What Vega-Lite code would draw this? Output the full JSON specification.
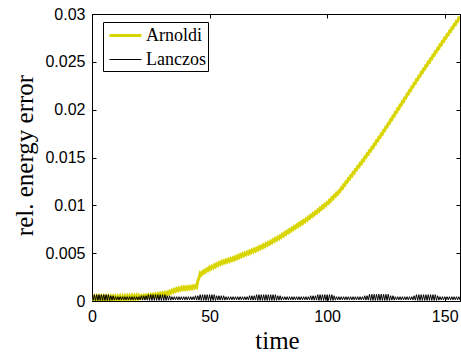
{
 "$schema": "https://vega.github.io/schema/vega-lite/v6.json",
 "width": 368,
 "height": 287,
 "autosize": {"type": "none"},
 "padding": {"left": 92, "top": 14, "right": 1, "bottom": 53},
 "background": "white",
 "config": {
  "view": {"stroke": "black", "strokeWidth": 1},
  "axis": {"domainColor": "black", "domainWidth": 1, "tickColor": "black", "tickSize": -4, "labelPadding": 11, "labelFont": "Liberation Sans", "labelFontSize": 16, "labelColor": "black", "titleFont": "Liberation Serif", "titleFontSize": 25, "titleFontWeight": "normal", "titleColor": "black", "grid": false, "labelFlush": false},
  "legend": {"strokeColor": "black", "fillColor": "white", "padding": 2, "symbolType": "M-1.6,0H1.6", "symbolSize": 400, "symbolOffset": 9, "labelFont": "Liberation Serif", "labelFontSize": 18, "labelColor": "black", "labelOffset": 9, "rowPadding": 4, "cornerRadius": 0}
 },
 "data": {"values": [
{"t":0,"Arnoldi":0.00045,"Lanczos":0.00066},{"t":0.5,"Arnoldi":0.00015,"Lanczos":0.00006},
{"t":1,"Arnoldi":0.00045,"Lanczos":0.00066},{"t":1.5,"Arnoldi":0.00015,"Lanczos":0.00006},
{"t":2,"Arnoldi":0.00045,"Lanczos":0.00066},{"t":2.5,"Arnoldi":0.00015,"Lanczos":0.00006},
{"t":3,"Arnoldi":0.00045,"Lanczos":0.00066},{"t":3.5,"Arnoldi":0.00015,"Lanczos":0.00006},
{"t":4,"Arnoldi":0.00045,"Lanczos":0.00066},{"t":4.5,"Arnoldi":0.00015,"Lanczos":0.00006},
{"t":5,"Arnoldi":0.00045,"Lanczos":0.00066},{"t":5.5,"Arnoldi":0.00015,"Lanczos":0.00006},
{"t":6,"Arnoldi":0.00045,"Lanczos":0.00066},{"t":6.5,"Arnoldi":0.00015,"Lanczos":0.00006},
{"t":7,"Arnoldi":0.00045,"Lanczos":0.00066},{"t":7.5,"Arnoldi":0.00015,"Lanczos":0.00006},
{"t":8,"Arnoldi":0.00045,"Lanczos":0.00055},{"t":8.5,"Arnoldi":0.00015,"Lanczos":0.00009},
{"t":9,"Arnoldi":0.00045,"Lanczos":0.00055},{"t":9.5,"Arnoldi":0.00015,"Lanczos":0.00009},
{"t":10,"Arnoldi":0.00045,"Lanczos":0.00045},{"t":10.5,"Arnoldi":0.00016,"Lanczos":0.00012},
{"t":11,"Arnoldi":0.00046,"Lanczos":0.00045},{"t":11.5,"Arnoldi":0.00017,"Lanczos":0.00012},
{"t":12,"Arnoldi":0.00047,"Lanczos":0.00045},{"t":12.5,"Arnoldi":0.00018,"Lanczos":0.00012},
{"t":13,"Arnoldi":0.00048,"Lanczos":0.00045},{"t":13.5,"Arnoldi":0.00019,"Lanczos":0.00012},
{"t":14,"Arnoldi":0.00049,"Lanczos":0.00045},{"t":14.5,"Arnoldi":0.0002,"Lanczos":0.00012},
{"t":15,"Arnoldi":0.0005,"Lanczos":0.00045},{"t":15.5,"Arnoldi":0.00021,"Lanczos":0.00012},
{"t":16,"Arnoldi":0.00051,"Lanczos":0.00045},{"t":16.5,"Arnoldi":0.00022,"Lanczos":0.00012},
{"t":17,"Arnoldi":0.00052,"Lanczos":0.00045},{"t":17.5,"Arnoldi":0.00023,"Lanczos":0.00012},
{"t":18,"Arnoldi":0.00053,"Lanczos":0.00045},{"t":18.5,"Arnoldi":0.00024,"Lanczos":0.00012},
{"t":19,"Arnoldi":0.00054,"Lanczos":0.00045},{"t":19.5,"Arnoldi":0.00025,"Lanczos":0.00012},
{"t":20,"Arnoldi":0.00055,"Lanczos":0.00045},{"t":20.5,"Arnoldi":0.00032,"Lanczos":0.00012},
{"t":21,"Arnoldi":0.00053,"Lanczos":0.00055},{"t":21.5,"Arnoldi":0.00035,"Lanczos":0.00009},
{"t":22,"Arnoldi":0.00056,"Lanczos":0.00055},{"t":22.5,"Arnoldi":0.00038,"Lanczos":0.00009},
{"t":23,"Arnoldi":0.00059,"Lanczos":0.00055},{"t":23.5,"Arnoldi":0.0004,"Lanczos":0.00009},
{"t":24,"Arnoldi":0.00061,"Lanczos":0.00066},{"t":24.5,"Arnoldi":0.00043,"Lanczos":0.00006},
{"t":25,"Arnoldi":0.00064,"Lanczos":0.00066},{"t":25.5,"Arnoldi":0.00046,"Lanczos":0.00006},
{"t":26,"Arnoldi":0.00067,"Lanczos":0.00066},{"t":26.5,"Arnoldi":0.00049,"Lanczos":0.00006},
{"t":27,"Arnoldi":0.0007,"Lanczos":0.00066},{"t":27.5,"Arnoldi":0.00052,"Lanczos":0.00006},
{"t":28,"Arnoldi":0.00074,"Lanczos":0.00066},{"t":28.5,"Arnoldi":0.00056,"Lanczos":0.00006},
{"t":29,"Arnoldi":0.00078,"Lanczos":0.00066},{"t":29.5,"Arnoldi":0.0006,"Lanczos":0.00006},
{"t":30,"Arnoldi":0.00082,"Lanczos":0.00066},{"t":30.5,"Arnoldi":0.00064,"Lanczos":0.00006},
{"t":31,"Arnoldi":0.00086,"Lanczos":0.00066},{"t":31.5,"Arnoldi":0.00068,"Lanczos":0.00006},
{"t":32,"Arnoldi":0.0009,"Lanczos":0.00055},{"t":32.5,"Arnoldi":0.00075,"Lanczos":0.00009},
{"t":33,"Arnoldi":0.001,"Lanczos":0.00055},{"t":33.5,"Arnoldi":0.00085,"Lanczos":0.00009},
{"t":34,"Arnoldi":0.0011,"Lanczos":0.00045},{"t":34.5,"Arnoldi":0.00095,"Lanczos":0.00012},
{"t":35,"Arnoldi":0.0012,"Lanczos":0.00045},{"t":35.5,"Arnoldi":0.00104,"Lanczos":0.00012},
{"t":36,"Arnoldi":0.00127,"Lanczos":0.00045},{"t":36.5,"Arnoldi":0.0011,"Lanczos":0.00012},
{"t":37,"Arnoldi":0.00133,"Lanczos":0.00045},{"t":37.5,"Arnoldi":0.00117,"Lanczos":0.00012},
{"t":38,"Arnoldi":0.0014,"Lanczos":0.00045},{"t":38.5,"Arnoldi":0.00121,"Lanczos":0.00012},
{"t":39,"Arnoldi":0.00142,"Lanczos":0.00045},{"t":39.5,"Arnoldi":0.00124,"Lanczos":0.00012},
{"t":40,"Arnoldi":0.00145,"Lanczos":0.00045},{"t":40.5,"Arnoldi":0.00126,"Lanczos":0.00012},
{"t":41,"Arnoldi":0.00147,"Lanczos":0.00045},{"t":41.5,"Arnoldi":0.00129,"Lanczos":0.00012},
{"t":42,"Arnoldi":0.0015,"Lanczos":0.00045},{"t":42.5,"Arnoldi":0.00132,"Lanczos":0.00012},
{"t":43,"Arnoldi":0.00153,"Lanczos":0.00045},{"t":43.5,"Arnoldi":0.00136,"Lanczos":0.00012},
{"t":44,"Arnoldi":0.00158,"Lanczos":0.00055},{"t":44.5,"Arnoldi":0.00145,"Lanczos":0.00009},
{"t":45,"Arnoldi":0.0021,"Lanczos":0.00055},{"t":45.5,"Arnoldi":0.0024,"Lanczos":0.00009},
{"t":46,"Arnoldi":0.0029,"Lanczos":0.00066},{"t":46.5,"Arnoldi":0.00278,"Lanczos":0.00006},
{"t":47,"Arnoldi":0.00305,"Lanczos":0.00066},{"t":47.5,"Arnoldi":0.00293,"Lanczos":0.00006},
{"t":48,"Arnoldi":0.0032,"Lanczos":0.00066},{"t":48.5,"Arnoldi":0.00308,"Lanczos":0.00006},
{"t":49,"Arnoldi":0.00335,"Lanczos":0.00066},{"t":49.5,"Arnoldi":0.00323,"Lanczos":0.00006},
{"t":50,"Arnoldi":0.0035,"Lanczos":0.00066},{"t":50.5,"Arnoldi":0.00336,"Lanczos":0.00006},
{"t":51,"Arnoldi":0.00362,"Lanczos":0.00066},{"t":51.5,"Arnoldi":0.00348,"Lanczos":0.00006},
{"t":52,"Arnoldi":0.00374,"Lanczos":0.00066},{"t":52.5,"Arnoldi":0.0036,"Lanczos":0.00006},
{"t":53,"Arnoldi":0.00386,"Lanczos":0.00055},{"t":53.5,"Arnoldi":0.00372,"Lanczos":0.00009},
{"t":54,"Arnoldi":0.00398,"Lanczos":0.00055},{"t":54.5,"Arnoldi":0.00384,"Lanczos":0.00009},
{"t":55,"Arnoldi":0.0041,"Lanczos":0.00055},{"t":55.5,"Arnoldi":0.00394,"Lanczos":0.00009},
{"t":56,"Arnoldi":0.00418,"Lanczos":0.00055},{"t":56.5,"Arnoldi":0.00402,"Lanczos":0.00009},
{"t":57,"Arnoldi":0.00426,"Lanczos":0.00045},{"t":57.5,"Arnoldi":0.0041,"Lanczos":0.00012},
{"t":58,"Arnoldi":0.00434,"Lanczos":0.00045},{"t":58.5,"Arnoldi":0.00418,"Lanczos":0.00012},
{"t":59,"Arnoldi":0.00442,"Lanczos":0.00045},{"t":59.5,"Arnoldi":0.00426,"Lanczos":0.00012},
{"t":60,"Arnoldi":0.0045,"Lanczos":0.00045},{"t":60.5,"Arnoldi":0.00435,"Lanczos":0.00012},
{"t":61,"Arnoldi":0.0046,"Lanczos":0.00045},{"t":61.5,"Arnoldi":0.00445,"Lanczos":0.00012},
{"t":62,"Arnoldi":0.0047,"Lanczos":0.00045},{"t":62.5,"Arnoldi":0.00455,"Lanczos":0.00012},
{"t":63,"Arnoldi":0.0048,"Lanczos":0.00045},{"t":63.5,"Arnoldi":0.00465,"Lanczos":0.00012},
{"t":64,"Arnoldi":0.0049,"Lanczos":0.00045},{"t":64.5,"Arnoldi":0.00475,"Lanczos":0.00012},
{"t":65,"Arnoldi":0.005,"Lanczos":0.00045},{"t":65.5,"Arnoldi":0.00485,"Lanczos":0.00012},
{"t":66,"Arnoldi":0.0051,"Lanczos":0.00045},{"t":66.5,"Arnoldi":0.00495,"Lanczos":0.00012},
{"t":67,"Arnoldi":0.0052,"Lanczos":0.00055},{"t":67.5,"Arnoldi":0.00505,"Lanczos":0.00009},
{"t":68,"Arnoldi":0.0053,"Lanczos":0.00055},{"t":68.5,"Arnoldi":0.00515,"Lanczos":0.00009},
{"t":69,"Arnoldi":0.0054,"Lanczos":0.00055},{"t":69.5,"Arnoldi":0.00525,"Lanczos":0.00009},
{"t":70,"Arnoldi":0.0055,"Lanczos":0.00066},{"t":70.5,"Arnoldi":0.00536,"Lanczos":0.00006},
{"t":71,"Arnoldi":0.00562,"Lanczos":0.00066},{"t":71.5,"Arnoldi":0.00548,"Lanczos":0.00006},
{"t":72,"Arnoldi":0.00574,"Lanczos":0.00066},{"t":72.5,"Arnoldi":0.0056,"Lanczos":0.00006},
{"t":73,"Arnoldi":0.00586,"Lanczos":0.00066},{"t":73.5,"Arnoldi":0.00572,"Lanczos":0.00006},
{"t":74,"Arnoldi":0.00598,"Lanczos":0.00066},{"t":74.5,"Arnoldi":0.00584,"Lanczos":0.00006},
{"t":75,"Arnoldi":0.0061,"Lanczos":0.00066},{"t":75.5,"Arnoldi":0.00597,"Lanczos":0.00006},
{"t":76,"Arnoldi":0.00624,"Lanczos":0.00066},{"t":76.5,"Arnoldi":0.00611,"Lanczos":0.00006},
{"t":77,"Arnoldi":0.00638,"Lanczos":0.00066},{"t":77.5,"Arnoldi":0.00625,"Lanczos":0.00006},
{"t":78,"Arnoldi":0.00652,"Lanczos":0.00066},{"t":78.5,"Arnoldi":0.00639,"Lanczos":0.00006},
{"t":79,"Arnoldi":0.00666,"Lanczos":0.00055},{"t":79.5,"Arnoldi":0.00653,"Lanczos":0.00009},
{"t":80,"Arnoldi":0.0068,"Lanczos":0.00055},{"t":80.5,"Arnoldi":0.00668,"Lanczos":0.00009},
{"t":81,"Arnoldi":0.00696,"Lanczos":0.00045},{"t":81.5,"Arnoldi":0.00684,"Lanczos":0.00012},
{"t":82,"Arnoldi":0.00712,"Lanczos":0.00045},{"t":82.5,"Arnoldi":0.007,"Lanczos":0.00012},
{"t":83,"Arnoldi":0.00728,"Lanczos":0.00045},{"t":83.5,"Arnoldi":0.00716,"Lanczos":0.00012},
{"t":84,"Arnoldi":0.00744,"Lanczos":0.00045},{"t":84.5,"Arnoldi":0.00732,"Lanczos":0.00012},
{"t":85,"Arnoldi":0.0076,"Lanczos":0.00045},{"t":85.5,"Arnoldi":0.00748,"Lanczos":0.00012},
{"t":86,"Arnoldi":0.00776,"Lanczos":0.00045},{"t":86.5,"Arnoldi":0.00764,"Lanczos":0.00012},
{"t":87,"Arnoldi":0.00792,"Lanczos":0.00045},{"t":87.5,"Arnoldi":0.0078,"Lanczos":0.00012},
{"t":88,"Arnoldi":0.00808,"Lanczos":0.00045},{"t":88.5,"Arnoldi":0.00796,"Lanczos":0.00012},
{"t":89,"Arnoldi":0.00824,"Lanczos":0.00045},{"t":89.5,"Arnoldi":0.00812,"Lanczos":0.00012},
{"t":90,"Arnoldi":0.0084,"Lanczos":0.00045},{"t":90.5,"Arnoldi":0.00829,"Lanczos":0.00012},
{"t":91,"Arnoldi":0.00858,"Lanczos":0.00045},{"t":91.5,"Arnoldi":0.00847,"Lanczos":0.00012},
{"t":92,"Arnoldi":0.00876,"Lanczos":0.00045},{"t":92.5,"Arnoldi":0.00865,"Lanczos":0.00012},
{"t":93,"Arnoldi":0.00894,"Lanczos":0.00055},{"t":93.5,"Arnoldi":0.00883,"Lanczos":0.00009},
{"t":94,"Arnoldi":0.00912,"Lanczos":0.00055},{"t":94.5,"Arnoldi":0.00901,"Lanczos":0.00009},
{"t":95,"Arnoldi":0.0093,"Lanczos":0.00055},{"t":95.5,"Arnoldi":0.0092,"Lanczos":0.00009},
{"t":96,"Arnoldi":0.0095,"Lanczos":0.00066},{"t":96.5,"Arnoldi":0.0094,"Lanczos":0.00006},
{"t":97,"Arnoldi":0.0097,"Lanczos":0.00066},{"t":97.5,"Arnoldi":0.0096,"Lanczos":0.00006},
{"t":98,"Arnoldi":0.0099,"Lanczos":0.00066},{"t":98.5,"Arnoldi":0.0098,"Lanczos":0.00006},
{"t":99,"Arnoldi":0.0101,"Lanczos":0.00066},{"t":99.5,"Arnoldi":0.01,"Lanczos":0.00006},
{"t":100,"Arnoldi":0.0103,"Lanczos":0.00066},{"t":100.5,"Arnoldi":0.01022,"Lanczos":0.00006},
{"t":101,"Arnoldi":0.01054,"Lanczos":0.00066},{"t":101.5,"Arnoldi":0.01046,"Lanczos":0.00006},
{"t":102,"Arnoldi":0.01078,"Lanczos":0.00066},{"t":102.5,"Arnoldi":0.0107,"Lanczos":0.00006},
{"t":103,"Arnoldi":0.01102,"Lanczos":0.00055},{"t":103.5,"Arnoldi":0.01094,"Lanczos":0.00009},
{"t":104,"Arnoldi":0.01126,"Lanczos":0.00045},{"t":104.5,"Arnoldi":0.01118,"Lanczos":0.00012},
{"t":105,"Arnoldi":0.0115,"Lanczos":0.00045},{"t":105.5,"Arnoldi":0.01146,"Lanczos":0.00012},
{"t":106,"Arnoldi":0.01182,"Lanczos":0.00045},{"t":106.5,"Arnoldi":0.01178,"Lanczos":0.00012},
{"t":107,"Arnoldi":0.01214,"Lanczos":0.00045},{"t":107.5,"Arnoldi":0.0121,"Lanczos":0.00012},
{"t":108,"Arnoldi":0.01246,"Lanczos":0.00045},{"t":108.5,"Arnoldi":0.01242,"Lanczos":0.00012},
{"t":109,"Arnoldi":0.01278,"Lanczos":0.00045},{"t":109.5,"Arnoldi":0.01274,"Lanczos":0.00012},
{"t":110,"Arnoldi":0.0131,"Lanczos":0.00045},{"t":110.5,"Arnoldi":0.01306,"Lanczos":0.00012},
{"t":111,"Arnoldi":0.01342,"Lanczos":0.00045},{"t":111.5,"Arnoldi":0.01338,"Lanczos":0.00012},
{"t":112,"Arnoldi":0.01374,"Lanczos":0.00045},{"t":112.5,"Arnoldi":0.0137,"Lanczos":0.00012},
{"t":113,"Arnoldi":0.01406,"Lanczos":0.00045},{"t":113.5,"Arnoldi":0.01402,"Lanczos":0.00012},
{"t":114,"Arnoldi":0.01438,"Lanczos":0.00045},{"t":114.5,"Arnoldi":0.01434,"Lanczos":0.00012},
{"t":115,"Arnoldi":0.0147,"Lanczos":0.00045},{"t":115.5,"Arnoldi":0.01467,"Lanczos":0.00012},
{"t":116,"Arnoldi":0.01504,"Lanczos":0.00055},{"t":116.5,"Arnoldi":0.01501,"Lanczos":0.00009},
{"t":117,"Arnoldi":0.01538,"Lanczos":0.00055},{"t":117.5,"Arnoldi":0.01535,"Lanczos":0.00009},
{"t":118,"Arnoldi":0.01572,"Lanczos":0.0007},{"t":118.5,"Arnoldi":0.01569,"Lanczos":0.00006},
{"t":119,"Arnoldi":0.01606,"Lanczos":0.0007},{"t":119.5,"Arnoldi":0.01603,"Lanczos":0.00006},
{"t":120,"Arnoldi":0.0164,"Lanczos":0.0007},{"t":120.5,"Arnoldi":0.01638,"Lanczos":0.00006},
{"t":121,"Arnoldi":0.01676,"Lanczos":0.0007},{"t":121.5,"Arnoldi":0.01674,"Lanczos":0.00006},
{"t":122,"Arnoldi":0.01712,"Lanczos":0.0007},{"t":122.5,"Arnoldi":0.0171,"Lanczos":0.00006},
{"t":123,"Arnoldi":0.01748,"Lanczos":0.0007},{"t":123.5,"Arnoldi":0.01746,"Lanczos":0.00006},
{"t":124,"Arnoldi":0.01784,"Lanczos":0.0007},{"t":124.5,"Arnoldi":0.01782,"Lanczos":0.00006},
{"t":125,"Arnoldi":0.0182,"Lanczos":0.0007},{"t":125.5,"Arnoldi":0.01819,"Lanczos":0.00006},
{"t":126,"Arnoldi":0.01858,"Lanczos":0.0007},{"t":126.5,"Arnoldi":0.01857,"Lanczos":0.00006},
{"t":127,"Arnoldi":0.01896,"Lanczos":0.00055},{"t":127.5,"Arnoldi":0.01895,"Lanczos":0.00009},
{"t":128,"Arnoldi":0.01934,"Lanczos":0.00055},{"t":128.5,"Arnoldi":0.01933,"Lanczos":0.00009},
{"t":129,"Arnoldi":0.01972,"Lanczos":0.00045},{"t":129.5,"Arnoldi":0.01971,"Lanczos":0.00012},
{"t":130,"Arnoldi":0.0201,"Lanczos":0.00045},{"t":130.5,"Arnoldi":0.02009,"Lanczos":0.00012},
{"t":131,"Arnoldi":0.02048,"Lanczos":0.00045},{"t":131.5,"Arnoldi":0.02047,"Lanczos":0.00012},
{"t":132,"Arnoldi":0.02086,"Lanczos":0.00045},{"t":132.5,"Arnoldi":0.02085,"Lanczos":0.00012},
{"t":133,"Arnoldi":0.02124,"Lanczos":0.00045},{"t":133.5,"Arnoldi":0.02123,"Lanczos":0.00012},
{"t":134,"Arnoldi":0.02162,"Lanczos":0.00045},{"t":134.5,"Arnoldi":0.02161,"Lanczos":0.00012},
{"t":135,"Arnoldi":0.022,"Lanczos":0.00045},{"t":135.5,"Arnoldi":0.02199,"Lanczos":0.00012},
{"t":136,"Arnoldi":0.02238,"Lanczos":0.00045},{"t":136.5,"Arnoldi":0.02237,"Lanczos":0.00012},
{"t":137,"Arnoldi":0.02276,"Lanczos":0.00055},{"t":137.5,"Arnoldi":0.02275,"Lanczos":0.00009},
{"t":138,"Arnoldi":0.02314,"Lanczos":0.00066},{"t":138.5,"Arnoldi":0.02313,"Lanczos":0.00006},
{"t":139,"Arnoldi":0.02352,"Lanczos":0.00066},{"t":139.5,"Arnoldi":0.02351,"Lanczos":0.00006},
{"t":140,"Arnoldi":0.0239,"Lanczos":0.00066},{"t":140.5,"Arnoldi":0.02388,"Lanczos":0.00006},
{"t":141,"Arnoldi":0.02426,"Lanczos":0.00066},{"t":141.5,"Arnoldi":0.02424,"Lanczos":0.00006},
{"t":142,"Arnoldi":0.02462,"Lanczos":0.00066},{"t":142.5,"Arnoldi":0.0246,"Lanczos":0.00006},
{"t":143,"Arnoldi":0.02498,"Lanczos":0.00066},{"t":143.5,"Arnoldi":0.02496,"Lanczos":0.00006},
{"t":144,"Arnoldi":0.02534,"Lanczos":0.00066},{"t":144.5,"Arnoldi":0.02532,"Lanczos":0.00006},
{"t":145,"Arnoldi":0.0257,"Lanczos":0.00066},{"t":145.5,"Arnoldi":0.02568,"Lanczos":0.00006},
{"t":146,"Arnoldi":0.02606,"Lanczos":0.00066},{"t":146.5,"Arnoldi":0.02604,"Lanczos":0.00006},
{"t":147,"Arnoldi":0.02642,"Lanczos":0.00055},{"t":147.5,"Arnoldi":0.0264,"Lanczos":0.00009},
{"t":148,"Arnoldi":0.02678,"Lanczos":0.00045},{"t":148.5,"Arnoldi":0.02676,"Lanczos":0.00012},
{"t":149,"Arnoldi":0.02714,"Lanczos":0.00045},{"t":149.5,"Arnoldi":0.02712,"Lanczos":0.00012},
{"t":150,"Arnoldi":0.0275,"Lanczos":0.00045},{"t":150.5,"Arnoldi":0.02748,"Lanczos":0.00012},
{"t":151,"Arnoldi":0.02785,"Lanczos":0.00045},{"t":151.5,"Arnoldi":0.02783,"Lanczos":0.00012},
{"t":152,"Arnoldi":0.0282,"Lanczos":0.00045},{"t":152.5,"Arnoldi":0.02818,"Lanczos":0.00012},
{"t":153,"Arnoldi":0.02855,"Lanczos":0.00045},{"t":153.5,"Arnoldi":0.02853,"Lanczos":0.00012},
{"t":154,"Arnoldi":0.0289,"Lanczos":0.00045},{"t":154.5,"Arnoldi":0.02888,"Lanczos":0.00012},
{"t":155,"Arnoldi":0.02925,"Lanczos":0.00045},{"t":155.5,"Arnoldi":0.02923,"Lanczos":0.00012},
{"t":156,"Arnoldi":0.0296,"Lanczos":0.00045},{"t":156.5,"Arnoldi":0.0296,"Lanczos":0.00012}
 ]},
 "transform": [{"fold": ["Arnoldi", "Lanczos"], "as": ["series", "value"]}],
 "layer": [
  {
   "mark": {"type": "line", "clip": true},
   "encoding": {
    "x": {"field": "t", "type": "quantitative", "scale": {"domain": [0, 156.5], "nice": false, "zero": false},
          "axis": {"orient": "bottom", "values": [0, 50, 100, 150], "title": "time", "titleX": 185, "titleY": 47, "titleBaseline": "alphabetic", "titleAlign": "center"}},
    "y": {"field": "value", "type": "quantitative", "scale": {"domain": [0, 0.03], "nice": false},
          "axis": {"orient": "left", "values": [0, 0.005, 0.01, 0.015, 0.02, 0.025, 0.03], "format": "~g", "title": "rel. energy error", "titleAngle": -90, "titleX": -60, "titleY": 141, "titleBaseline": "alphabetic", "titleAlign": "center"}},
    "color": {"field": "series", "type": "nominal", "scale": {"domain": ["Arnoldi", "Lanczos"], "range": ["#d9d500", "#000000"]},
              "legend": {"orient": "none", "legendX": 11, "legendY": 8, "title": null}},
    "strokeWidth": {"field": "series", "type": "nominal", "scale": {"domain": ["Arnoldi", "Lanczos"], "range": [3, 1]},
              "legend": {"orient": "none", "legendX": 11, "legendY": 8, "title": null}}
   }
  },
  {
   "mark": {"type": "line", "opacity": 0},
   "encoding": {
    "x": {"field": "t", "type": "quantitative", "scale": {"domain": [0, 156.5], "nice": false, "zero": false},
          "axis": {"orient": "top", "values": [0, 50, 100, 150], "labels": false, "title": null}},
    "y": {"field": "value", "type": "quantitative", "scale": {"domain": [0, 0.03], "nice": false},
          "axis": {"orient": "right", "values": [0, 0.005, 0.01, 0.015, 0.02, 0.025, 0.03], "labels": false, "title": null}}
   }
  }
 ]
}
